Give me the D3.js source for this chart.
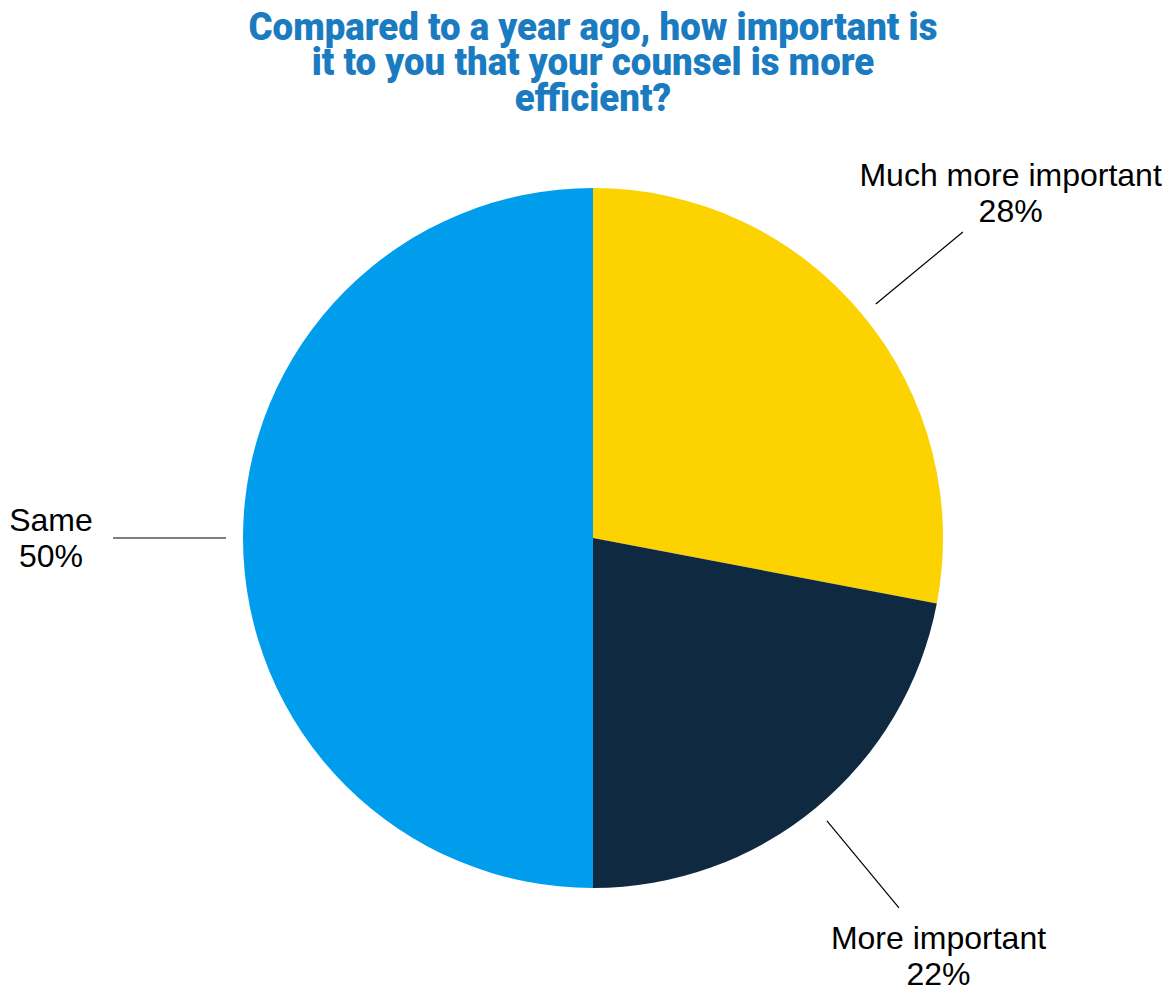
<!DOCTYPE html>
<html>
<head>
<meta charset="utf-8">
<script src="https://cdn.jsdelivr.net/npm/d3@7"></script>
<style>
  html, body { margin: 0; padding: 0; background: #fff; }
  svg { display: block; }
</style>
</head>
<body>
<div id="chart"></div>
<script>
// data
var categories = ['Much more important', 'More important', 'Same'];
var values = [28, 22, 50];
var colors = ['#FCD200', '#0F2940', '#009DEC'];
var titleLines = [
  'Compared to a year ago, how important is',
  'it to you that your counsel is more',
  'efficient?'
];

var W = 1170, H = 985;
var cx = 593, cy = 538, R = 350;

var svg = d3.select('#chart').append('svg')
  .attr('width', W).attr('height', H);

// title — heavy condensed look: bold face squeezed horizontally
var title = svg.append('g').attr('transform', 'translate(' + cx + ',0)');
var tLines = title.selectAll('text')
  .data(titleLines)
  .enter().append('text')
  .attr('x', 0)
  .attr('y', function(d, i) { return 40 + i * 35.5; })
  .attr('text-anchor', 'middle')
  .attr('fill', '#1B7BC1')
  .attr('font-family', 'Roboto, "Open Sans", sans-serif')
  .attr('font-weight', 900)
  .attr('font-size', 38)
  .text(function(d) { return d; });
var natural = tLines.node().getComputedTextLength();
var sx = 689 / natural;
tLines.attr('transform', 'scale(' + sx + ',1)');

// pie
var pie = d3.pie().sort(null).value(function(d) { return d; });
var arcs = pie(values);
var arc = d3.arc().innerRadius(0).outerRadius(R);

var g = svg.append('g').attr('transform', 'translate(' + cx + ',' + cy + ')');

g.selectAll('path.slice')
  .data(arcs)
  .enter().append('path')
  .attr('class', 'slice')
  .attr('d', arc)
  .attr('fill', function(d, i) { return colors[i]; });

// leader lines + labels
var lineIn = d3.arc().innerRadius(367).outerRadius(367);
var lineOut = d3.arc().innerRadius(480).outerRadius(480);
var labelArc = d3.arc().innerRadius(542).outerRadius(542);

arcs.forEach(function(d, i) {
  var p0 = lineIn.centroid(d);
  var p1 = lineOut.centroid(d);
  g.append('line')
    .attr('x1', p0[0]).attr('y1', p0[1])
    .attr('x2', p1[0]).attr('y2', p1[1])
    .attr('stroke', '#000')
    .attr('stroke-width', 1.2);

  var c = labelArc.centroid(d);
  var t = g.append('text')
    .attr('text-anchor', 'middle')
    .attr('font-family', '"Liberation Sans", Arial, sans-serif')
    .attr('font-size', 32)
    .attr('fill', '#000');
  t.append('tspan').attr('x', c[0]).attr('y', c[1] - 7).text(categories[i]);
  t.append('tspan').attr('x', c[0]).attr('y', c[1] + 29).text(values[i] + '%');
});
</script>
</body>
</html>
